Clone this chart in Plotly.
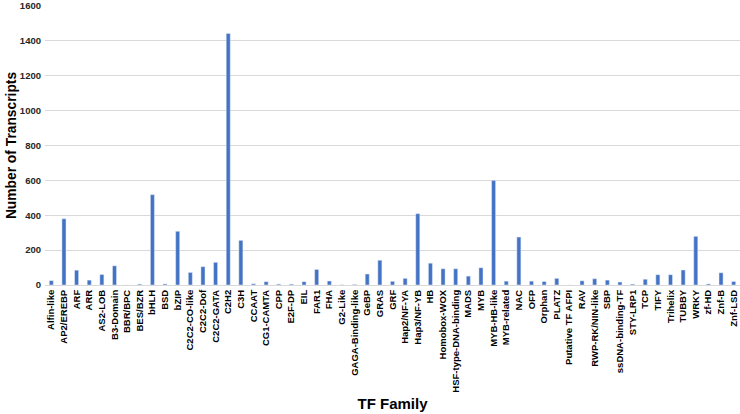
import plotly.graph_objects as go

families = ["Alfin-like", "AP2/EREBP", "ARF", "ARR", "AS2-LOB", "B3-Domain", "BBR/BPC", "BES/BZR",
            "bHLH", "BSD", "bZIP", "C2C2-CO-like", "C2C2-Dof", "C2C2-GATA", "C2H2", "C3H", "CCAAT",
            "CG1-CAMTA", "CPP", "E2F-DP", "EIL", "FAR1", "FHA", "G2-Like", "GAGA-Binding-like",
            "GeBP", "GRAS", "GRF", "Hap2/NF-YA", "Hap3/NF-YB", "HB", "Homobox-WOX",
            "HSF-type-DNA-binding", "MADS", "MYB", "MYB-HB-like", "MYB-related", "NAC", "OFP",
            "Orphan", "PLATZ", "Putative TF AFPI", "RAV", "RWP-RK/NIN-like", "SBP",
            "ssDNA-binding-TF", "STY-LRP1", "TCP", "TIFY", "Trihelix", "TUBBY", "WRKY", "zf-HD",
            "Znf-B", "Znf-LSD"]
transcripts = [25, 380, 85, 28, 60, 110, 0, 5, 518, 6, 308, 72, 105, 130, 1443, 256, 7,
               19, 5, 5, 19, 89, 23, 1, 3, 63, 142, 21, 38, 409, 125, 93, 93, 51, 99, 600,
               22, 275, 22, 20, 38, 0, 24, 36, 28, 17, 5, 33, 59, 59, 86, 279, 6, 70, 20]

fig = go.Figure(go.Bar(x=families, y=transcripts, marker_color="#4472C4", width=0.32))

fig.update_layout(
    width=740, height=414,
    margin=dict(l=45, r=0, t=6, b=129),
    paper_bgcolor="white", plot_bgcolor="white",
    font=dict(family="Liberation Sans, Arial", color="#262626"),
    showlegend=False,
    xaxis=dict(
        tickangle=-90, tickfont=dict(size=9.5, family="Liberation Sans, Arial", color="#000000"),
        showgrid=False, showline=True, linecolor="#d9d9d9", linewidth=1,
        title=dict(text="<b>TF Family</b>", font=dict(size=15, color="#000000"), standoff=6),
        ticks="", range=[-0.5, 54.5], automargin=False,
    ),
    yaxis=dict(
        range=[0, 1600], dtick=200, showgrid=True, gridcolor="#d9d9d9", gridwidth=1,
        tickfont=dict(size=9.5, color="#262626"), ticklabelstandoff=3,
        title=dict(text="<b>Number of Transcripts</b>", font=dict(size=13.8, color="#000000"), standoff=0),
        zeroline=False, ticks="", automargin=False,
    ),
)
fig.update_xaxes(tickprefix="<b>", ticksuffix="</b>")
fig.update_yaxes(tickprefix="<b>", ticksuffix="</b>")

fig.write_html("out.html", config={"displayModeBar": False},
               post_script="document.body.style.margin='0px';")
